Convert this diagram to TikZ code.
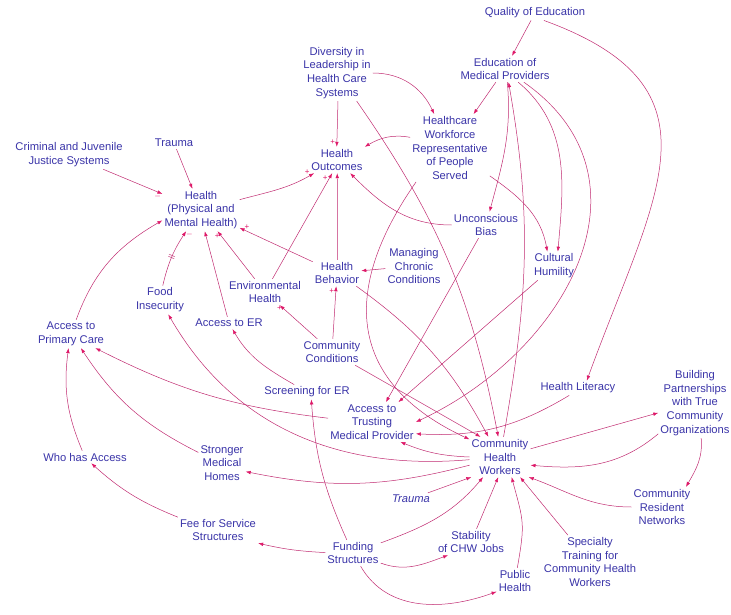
\documentclass[tikz,border=0pt]{standalone}
\usepackage{fontspec}
\setmainfont{Liberation Sans}
\usepackage{tikz}
\usetikzlibrary{arrows.meta,positioning}
\definecolor{varblue}{RGB}{58,52,168}
\definecolor{linkred}{RGB}{192,42,112}
\definecolor{tipred}{RGB}{222,24,104}
\tikzset{
    -{Latex[length=5pt,width=3.6pt,color=tipred]},x=1pt,y=-1pt,
    every edge/.append style={draw=linkred, line width=0.5pt},
    var/.style ={text=varblue, align=center, inner sep=2pt, font=\fontsize{11.2}{13.8}\selectfont},
    varit/.style ={var, font=\fontsize{11.2}{13.8}\selectfont\itshape},
    pol/.style = {text=tipred, inner sep=0.5pt, font=\fontsize{8}{8}\selectfont},
    delay/.style = {text=linkred, sloped, inner sep=0pt, font=\fontsize{7}{7}\selectfont},
}
\begin{document}
\begin{tikzpicture}
\useasboundingbox (0,0) rectangle (731,615);

    % variables
    \node (qual) at (535,13) [var] {Quality of Education};
    \node (edmed) at (505,69) [var] {Education of\\Medical Providers};
    \node (div) at (337,73) [var] {Diversity in\\Leadership in\\Health Care\\Systems};
    \node (hcw) at (450,148) [var] {Healthcare\\Workforce\\Representative\\of People\\Served};
    \node (ho) at (337,160) [var] {Health\\Outcomes};
    \node (crim) at (69,155) [var] {Criminal and Juvenile\\Justice Systems};
    \node (trauma) at (174,143) [var] {Trauma};
    \node (health) at (201,210) [var] {Health\\(Physical and\\Mental Health)};
    \node (ub) at (486,225) [var] {Unconscious\\Bias};
    \node (mcc) at (414,266) [var] {Managing\\Chronic\\Conditions};
    \node (hb) at (337,273) [var] {Health\\Behavior};
    \node (ch) at (554,266) [var] {Cultural\\Humility};
    \node (env) at (265,292) [var] {Environmental\\Health};
    \node (food) at (160,300) [var] {Food\\Insecurity};
    \node (aer) at (229,323) [var] {Access to ER};
    \node (apc) at (71,334) [var] {Access to\\Primary Care};
    \node (cc) at (332,352) [var] {Community\\Conditions};
    \node (ser) at (307,392) [var] {Screening for ER};
    \node (hl) at (578,388) [var] {Health Literacy};
    \node (bp) at (695,403) [var] {Building\\Partnerships\\with True\\Community\\Organizations};
    \node (atmp) at (372,422) [var] {Access to\\Trusting\\Medical Provider};
    \node (chw) at (500,457) [var] {Community\\Health\\Workers};
    \node (wha) at (85,457) [var] {Who has Access};
    \node (smh) at (222,463) [var] {Stronger\\Medical\\Homes};
    \node (trauma2) at (411,499) [varit] {Trauma};
    \node (crn) at (662,507) [var] {Community\\Resident\\Networks};
    \node (ffs) at (218,530) [var] {Fee for Service\\Structures};
    \node (fund) at (353,553) [var] {Funding\\Structures};
    \node (stab) at (471,542) [var] {Stability\\of CHW Jobs};
    \node (pubh) at (515,581) [var] {Public\\Health};
    \node (spec) at (590,562) [var] {Specialty\\Training for\\Community Health\\Workers};

    % Directed edges, upper part
    \path (qual) edge (edmed);
    \path (qual.-40) edge[out=-20,in=70,looseness=1.4] (hl.40);
    \path (div.-88) edge node[pol,pos=0.9,left=1pt]{+} (ho.91);
    \path (div.east) edge[out=0,in=115] (hcw);
    \path (div.-55) edge[bend left=12] (chw.95);
    \path (edmed) edge (hcw);
    \path (edmed.-80) edge[out=-85,in=75] (ub);
    \path (edmed.-45) edge[out=-40,in=85] (ch.75);
    \path (edmed.-35) edge[out=-35,in=25,looseness=1.2] (atmp.east);
    \path (chw.80) edge[out=80,in=-80] (edmed.-75);
    \path (hcw.165) edge[out=170,in=30] (ho.north east);
    \path (hcw.-35) edge[out=-35,in=100] (ch.115);
    \path (hcw.-135) edge[out=-125,in=155,looseness=1.3] (chw.150);
    \path (ub) edge[out=180,in=-45] (ho.-45);
    \path (ub) edge (atmp.55);
    \path (ch) edge (atmp.37);
    \path (hl.-140) edge[bend left=17] (atmp.-15);

    % health block
    \path (mcc) edge (hb);
    \path (hb.88) edge (ho.-89);
    \path (hb) edge node[pol,pos=0.9,above=1pt]{+} (health);
    \path (hb) edge[bend left=13] (chw.120);
    \path (cc) edge node[pol,pos=0.9,left=1pt]{+} (hb);
    \path (cc) edge node[pol,pos=0.9,left=1pt]{+} (env);
    \path (cc) edge (chw.134);
    \path (env) edge node[pol,pos=0.9,left=1pt]{+} (health);
    \path (env) edge node[pol,pos=0.95,left=1pt]{+} (ho.-110);
    \path (health) edge[out=15,in=-150] node[pol,pos=0.95,above left]{+} (ho.-150);
    \path (trauma) edge (health);
    \path (crim) edge node[pol,pos=0.92,below=1pt]{$-$} (health);
    \path (food) edge[bend left=10] node[delay]{||} node[pol,pos=0.95,right=1pt]{$-$} (health.-125);
    \path (aer) edge (health.-80);
    \path (apc.70) edge[out=70,in=-150] (health.-165);
    \path (ser.150) edge[out=150,in=-60] (aer.-60);

    % access and funding
    \path (atmp) edge[bend left=10] (apc.-30);
    \path (smh) edge[bend left=15] (apc.-55);
    \path (wha) edge[bend left=15] (apc.-100);
    \path (ffs) edge[bend left=10] (wha.-45);
    \path (fund) edge[bend left=10] (ser.-60);
    \path (fund) edge[bend left=5] (ffs.south east);
    \path (fund.-20) edge[out=-20,in=-160] (stab.-150);
    \path (fund.-60) edge[out=-60,in=-160] (pubh.-150);
    \path (fund.20) edge[out=20,in=-130] (chw.-130);

    % around CHW
    \path (stab) edge (chw.-95);
    \path (trauma2) edge (chw.-145);
    \path (pubh) edge[out=80,in=-75,looseness=1.3] (chw.-60);
    \path (spec) edge (chw.-45);
    \path (crn) edge[out=180,in=-20] (chw.-35);
    \path (bp.-80) edge[out=-85,in=60] (crn.40);
    \path (bp.-140) edge[out=-140,in=-5] (chw.-15);
    \path (chw.15) edge (bp.-165);
    \path (chw.180) edge[bend left=10] (atmp.-35);
    \path (chw.185) edge[out=185,in=-60] (food);
    \path (chw.195) edge[bend left=13] (smh.-20);

\end{tikzpicture}
\end{document}
